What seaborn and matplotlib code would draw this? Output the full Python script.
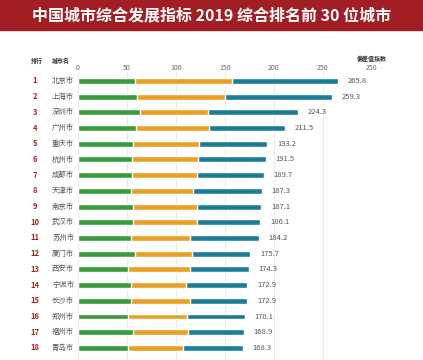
import matplotlib.pyplot as plt
import matplotlib.transforms as mtransforms
import seaborn as sns

# data (top 18 rows visible)
ranks = ["1", "2", "3", "4", "5", "6", "7", "8", "9", "10", "11", "12", "13", "14", "15", "16", "17", "18"]
cities = ["北京市", "上海市", "深圳市", "广州市", "重庆市", "杭州市", "成都市", "天津市", "南京市",
          "武汉市", "苏州市", "厦门市", "西安市", "宁波市", "长沙市", "郑州市", "福州市", "青岛市"]
green = [58.2, 60.5, 63.3, 59.2, 55.8, 55.1, 55.1, 53.7, 55.8, 56.5, 54.4, 58.5, 50.7, 53.7, 54.4, 51.0, 55.8, 51.0]
orange = [98.6, 89.8, 69.0, 74.1, 67.7, 67.7, 66.0, 63.3, 65.3, 64.9, 59.9, 57.5, 63.6, 56.5, 59.9, 59.9, 56.1, 56.5]
totals = [265.8, 259.3, 224.3, 211.5, 193.2, 191.5, 189.7, 187.3, 187.1, 186.1, 184.2, 175.7, 174.3, 172.9, 172.9, 170.1, 168.9, 168.3]
tick_vals = [0, 50, 100, 150, 200, 250, 300]
tick_labels = ["0", "50", "100", "150", "200", "250", "250"]

title = "中国城市综合发展指标 2019 综合排名前 30 位城市"

sns.set_style("white")
plt.rcParams['font.family'] = ['Noto Sans CJK SC', 'DejaVu Sans']

W, H = 423, 360
fig = plt.figure(figsize=(W / 100, H / 100), dpi=100)
fig.patch.set_facecolor("white")

# title banner
fig.patches.append(plt.Rectangle((0, 1 - 30 / H), 1, 30 / H, transform=fig.transFigure,
                                 color="#a11f24", zorder=0))
fig.text(0.5, 1 - 15 / H, title, ha="center", va="center", color="white",
         fontsize=11.5, fontweight="bold")

ax = fig.add_axes([78 / W, 0, (372 - 78) / W, (360 - 72) / H])

orange_end = [g + o for g, o in zip(green, orange)]

# stacked bars drawn longest first
sns.barplot(x=totals, y=cities, color="#1b7d96", saturation=1, width=0.38, ax=ax, orient="h")
sns.barplot(x=orange_end, y=cities, color="#e9a023", saturation=1, width=0.38, ax=ax, orient="h")
sns.barplot(x=green, y=cities, color="#3a9b3c", saturation=1, width=0.38, ax=ax, orient="h")

ax.set_xlim(0, 300)
ax.set_ylim(17.77, -0.57)
ax.set_xticks(tick_vals)
ax.set_xticklabels(tick_labels)
ax.xaxis.tick_top()
ax.tick_params(axis="x", length=0, pad=0, labelsize=5, colors="#666666")
ax.set_yticks([])
ax.set_xlabel("")
ax.set_ylabel("")
ax.grid(axis="x", color="#e6e6e6", linewidth=0.6)
ax.set_axisbelow(True)
for s in ax.spines.values():
    s.set_visible(False)

trans = mtransforms.blended_transform_factory(fig.transFigure, ax.transData)
for i, (r, c, t) in enumerate(zip(ranks, cities, totals)):
    ax.text(35 / W, i, r, transform=trans, ha="center", va="center",
            fontsize=5.5, fontweight="bold", color="#a3262a")
    ax.text(52 / W, i, c, transform=trans, ha="left", va="center",
            fontsize=5.3, color="#555555")
    ax.annotate(f"{t:.1f}", (t, i), xytext=(7, 0), textcoords="offset points",
                ha="left", va="center", fontsize=5.5, color="#555555")

# column headers
fig.text(37 / W, 1 - 61 / H, "排行", ha="center", va="center", fontsize=4.3,
         fontweight="bold", color="#333333")
fig.text(52 / W, 1 - 61 / H, "城市名", ha="left", va="center", fontsize=4.3,
         fontweight="bold", color="#333333")
fig.text(387 / W, 1 - 59 / H, "偏差值指数", ha="right", va="center", fontsize=4.3,
         fontweight="bold", color="#333333")

fig.savefig("out.png", dpi=100)
